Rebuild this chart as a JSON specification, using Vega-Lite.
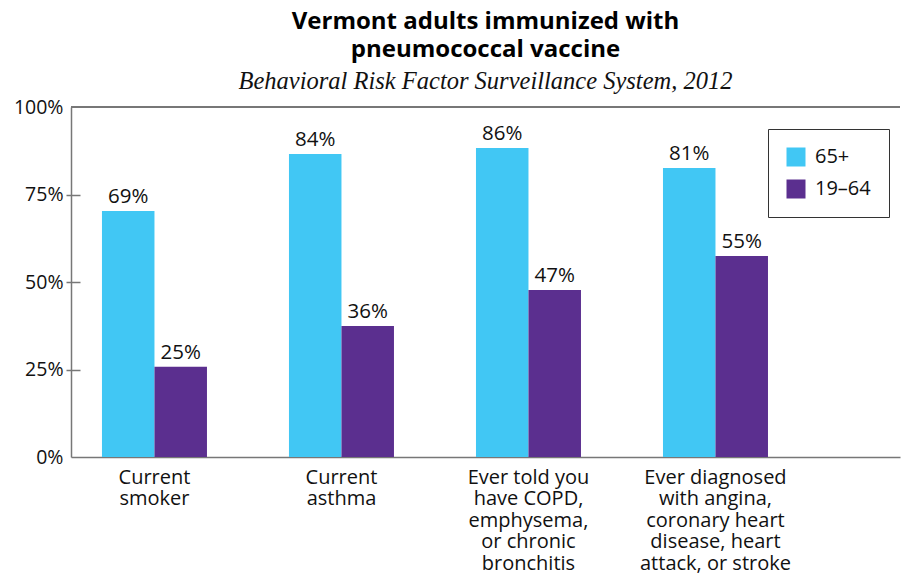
{
  "$schema": "https://vega.github.io/schema/vega-lite/v6.json",
  "autosize": "none",
  "width": 829,
  "height": 350,
  "padding": {"left": 71, "top": 107, "right": 2, "bottom": 128},
  "background": "white",
  "config": {
    "font": "Open Sans",
    "view": {"stroke": null}
  },
  "title": {
    "text": ["Vermont adults immunized with", "pneumococcal vaccine"],
    "subtitle": "Behavioral Risk Factor Surveillance System, 2012",
    "fontSize": 24,
    "fontWeight": "bold",
    "font": "Open Sans",
    "color": "black",
    "lineHeight": 28,
    "subtitleFont": "Liberation Serif",
    "subtitleFontStyle": "italic",
    "subtitleFontSize": 24.5,
    "subtitleColor": "#111",
    "subtitlePadding": 8,
    "anchor": "middle",
    "offset": 4
  },
  "data": {
    "values": [
      {"category": "Current|smoker", "group": "65+", "value": 70.3, "label": "69%"},
      {"category": "Current|smoker", "group": "19–64", "value": 25.8, "label": "25%"},
      {"category": "Current|asthma", "group": "65+", "value": 86.6, "label": "84%"},
      {"category": "Current|asthma", "group": "19–64", "value": 37.4, "label": "36%"},
      {"category": "Ever told you|have COPD,|emphysema,|or chronic|bronchitis", "group": "65+", "value": 88.3, "label": "86%"},
      {"category": "Ever told you|have COPD,|emphysema,|or chronic|bronchitis", "group": "19–64", "value": 47.7, "label": "47%"},
      {"category": "Ever diagnosed|with angina,|coronary heart|disease, heart|attack, or stroke", "group": "65+", "value": 82.6, "label": "81%"},
      {"category": "Ever diagnosed|with angina,|coronary heart|disease, heart|attack, or stroke", "group": "19–64", "value": 57.4, "label": "55%"}
    ]
  },
  "resolve": {"axis": {"y": "independent"}},
  "layer": [
    {
      "mark": {"type": "bar"},
      "encoding": {
        "x": {
          "field": "category",
          "type": "nominal",
          "sort": null,
          "scale": {"paddingInner": 0.4385, "paddingOuter": 0.4358, "align": 0.19},
          "axis": {
            "title": null,
            "labelAngle": 0,
            "labelExpr": "split(datum.label, '|')",
            "labelFontSize": 20,
            "labelLineHeight": 21.5,
            "labelColor": "#111",
            "labelPadding": 10,
            "labelBaseline": "top",
            "ticks": false,
            "domainColor": "#777",
            "domainWidth": 1.5
          }
        },
        "xOffset": {"field": "group", "type": "nominal", "sort": ["65+", "19–64"]},
        "y": {
          "field": "value",
          "type": "quantitative",
          "scale": {"domain": [0, 100]},
          "axis": {
            "title": null,
            "orient": "left",
            "offset": -9,
            "domain": false,
            "values": [0, 25, 50, 75, 100],
            "labelExpr": "datum.value + '%'",
            "labelFontSize": 19.5,
            "labelColor": "#111",
            "labelPadding": 3,
            "tickSize": 14,
            "tickColor": "#777",
            "tickWidth": 1.5,
            "tickOpacity": {"condition": {"test": "datum.value === 0 || datum.value === 100", "value": 0}, "value": 1},
            "grid": false
          }
        },
        "color": {
          "field": "group",
          "type": "nominal",
          "scale": {"domain": ["65+", "19–64"], "range": ["#41C7F4", "#5B2F8F"]},
          "legend": {
            "title": null,
            "orient": "none",
            "legendX": 697,
            "legendY": 22,
            "strokeColor": "#333",
            "fillColor": "white",
            "padding": 18,
            "symbolType": "square",
            "symbolSize": 361,
            "symbolStrokeWidth": 0,
            "symbolOpacity": 1,
            "labelFontSize": 20,
            "labelColor": "#111",
            "labelOffset": 9,
            "rowPadding": 12
          }
        }
      }
    },
    {
      "mark": {"type": "text", "baseline": "bottom", "dy": -4, "fontSize": 20.5, "color": "#111"},
      "encoding": {
        "x": {"field": "category", "type": "nominal", "sort": null},
        "xOffset": {"field": "group", "type": "nominal", "sort": ["65+", "19–64"]},
        "y": {"field": "value", "type": "quantitative", "axis": null},
        "text": {"field": "label"}
      }
    },
    {
      "mark": {"type": "rule", "color": "#777", "strokeWidth": 1.5},
      "encoding": {
        "y": {
          "datum": 100,
          "type": "quantitative",
          "axis": {"orient": "left", "title": null, "labels": false, "ticks": false, "grid": false, "domain": true, "domainColor": "#777", "domainWidth": 1.5}
        }
      }
    }
  ]
}
